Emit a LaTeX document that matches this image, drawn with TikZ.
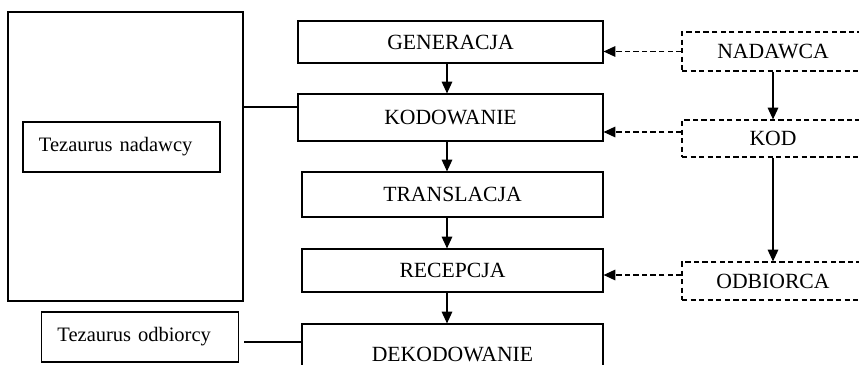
\documentclass[tikz,border=0pt]{standalone}
\usepackage{fontspec}
\setmainfont{Liberation Serif}
\usetikzlibrary{arrows.meta}
\begin{document}
\begin{tikzpicture}[x=0.03cm, y=-0.03cm, line width=1pt,
    >={Triangle[length=10pt, width=9pt]},
    etap/.style={draw, minimum width=9.03cm, font=\fontsize{18.5}{22}\selectfont},
    strona/.style={draw, dash pattern=on 4.5pt off 2.8pt, minimum width=5.46cm,
      font=\fontsize{18.5}{22}\selectfont},
    tezaurus/.style={draw, minimum height=1.5cm, inner xsep=0.48cm,
      text width=4.95cm, align=left, font=\fontsize{17.5}{21}\selectfont},
    kreska/.style={dash pattern=on 4.5pt off 2.8pt}]
  \clip (0,0) rectangle (859,365);
  % nadawca i jego tezaurus
  \node[draw, minimum width=7.05cm, minimum height=8.67cm] (nadBox) at (125.5,156.5) {};
  \node[tezaurus] (tn) at (121.5,147) {Tezaurus nadawcy};
  \node[tezaurus] (to) at (140,337) {Tezaurus odbiorcy};
  % etapy komunikacji
  \node[etap, minimum width=9.15cm, minimum height=1.26cm] (gen) at (450.5,42) {GENERACJA};
  \node[etap, minimum width=9.15cm, minimum height=1.41cm] (kodow) at (450.5,117.5) {KODOWANIE};
  \node[etap, minimum height=1.35cm] (trans) at (452.5,194.5) {TRANSLACJA};
  \node[etap, minimum height=1.29cm] (rec) at (452.5,270.5) {RECEPCJA};
  \node[etap, minimum height=1.8cm] (dekod) at (452.5,354) {DEKODOWANIE};
  \coordinate (ax) at (447,0);
  \foreach \a/\b in {gen/kodow, kodow/trans, trans/rec, rec/dekod} {
    \draw[->] (\a.south -| ax) -- (\b.north -| ax);
  }
  % powiazania z tezaurusami
  \draw ([yshift=0.315cm]kodow.west) -- ([yshift=0.315cm]kodow.west -| nadBox.east);
  \draw[shorten <=4.3pt] ([yshift=-0.15cm]to.east) -- ([yshift=-0.15cm]to.east -| dekod.west);
  % elementy zewnetrzne (przerywane)
  \node[strona, minimum height=1.17cm] (nad) at (773,51.5) {NADAWCA};
  \node[strona, minimum height=1.11cm] (kod) at (773,138.5) {KOD};
  \node[strona, minimum height=1.14cm] (odb) at (773,281) {ODBIORCA};
  \draw[->] (nad) -- (kod);
  \draw[->] (kod) -- (odb);
  \draw[->, kreska] (nad.west) -- (nad.west -| gen.east);
  \draw[->, kreska] ([yshift=0.195cm]kod.west) -- ([yshift=0.195cm]kod.west -| kodow.east);
  \draw[->, kreska] ([yshift=0.18cm]odb.west) -- ([yshift=0.18cm]odb.west -| rec.east);
\end{tikzpicture}
\end{document}
